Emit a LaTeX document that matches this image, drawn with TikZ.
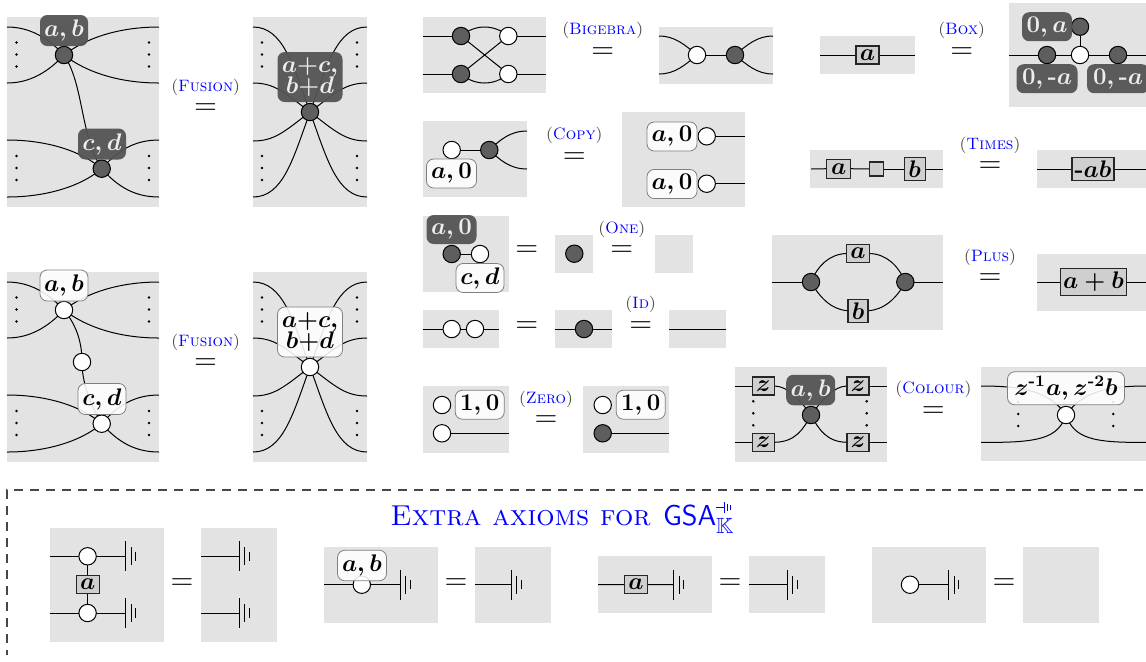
\documentclass[tikz,border=0pt]{standalone}
\usepackage{fix-cm}
\usepackage{amssymb}
\pgfdeclarelayer{panellayer}
\pgfdeclarelayer{wirelayer}
\pgfsetlayers{panellayer,wirelayer,main}
\definecolor{panelgrey}{gray}{0.89}
\definecolor{spiderdark}{gray}{0.37}
\definecolor{labeldark}{gray}{0.33}
\definecolor{boxgrey}{gray}{0.81}
\newcommand\labfont{\fontsize{12}{11}\selectfont\boldmath}
\newcommand\hy{\mbox{\bfseries -}}
\newcommand\hys{\mbox{\fontsize{8}{8}\selectfont\bfseries -}}
\newcommand\gndglyph{\hbox{\rule[2.7pt]{4pt}{.35pt}\rule{.4pt}{5.8pt}\kern1.2pt\rule[1pt]{.35pt}{3.8pt}\kern1pt\rule[1.7pt]{.35pt}{2.4pt}}}
\tikzset{
  panel/.style={fill=panelgrey,draw=none},
  wire/.style={draw=black,line width=.5pt},
  spider/.style={circle,draw=black,line width=.5pt,minimum size=8.7pt,inner sep=0pt,outer sep=0pt},
  gs/.style={spider,fill=spiderdark},
  ws/.style={spider,fill=white},
  sz/.style 2 args={minimum width=#1*0.5pt,minimum height=#2*0.5pt},
  baselab/.style={rounded corners=3.6pt,inner sep=0pt,outer sep=0pt,align=center,font=\labfont},
  dlab/.style={baselab,fill=labeldark,fill opacity=.95,text opacity=1,text=white!93!black,draw=none},
  wlab/.style={baselab,fill=white,fill opacity=.88,draw=black!50,draw opacity=1,line width=.4pt,text opacity=1,text=black},
  bx/.style={rectangle,draw=black!85,fill=boxgrey,line width=.6pt,inner sep=0pt,outer sep=0pt,font=\labfont},
  eqn/.style={inner sep=0pt,outer sep=0pt,font=\fontsize{15}{15}\selectfont},
  rulename/.style={inner sep=0pt,outer sep=0pt,font=\fontsize{8.25}{9}\selectfont,text=black!70},
  gnd/.pic={
    \draw[wire] (0,-15) -- (0,15);
    \draw[wire] (5.5,-9) -- (5.5,9);
    \draw[wire] (10,-4.7) -- (10,4.7);
  },
}
\newcommand\panelbox[4]{\begin{pgfonlayer}{panellayer}\fill[panel] (#1,#2) rectangle (#3,#4);\end{pgfonlayer}}
\newcommand\nm[1]{(\textcolor{blue}{\textsc{#1}})}
\newcommand\dotsv[2]{\foreach \yy in {-12,0,12} \fill[black] (#1,#2+\yy) circle (1.4);}
% left hand of (Fusion): #1 spider style, #2 label style, #3 link
\newcommand\fusionL[3]{%
  \panelbox{7}{17}{159}{207}
  \node[#1] (A) at (64,55) {};
  \node[#1] (B) at (101.7,168.7) {};
  #3
  \node[#2,sz={48}{31}] (LA) at (64,30.5) {$a,b$};
  \node[#2,sz={48}{31}] (LB) at (102,144) {$c,d$};
  \coordinate (a1) at (7,27); \coordinate (a2) at (7,83);
  \coordinate (a3) at (159,27); \coordinate (a4) at (159,83);
  \coordinate (b1) at (7,140); \coordinate (b2) at (7,197);
  \coordinate (b3) at (159,140); \coordinate (b4) at (159,197);
  \dotsv{16.5}{54.5}\dotsv{149}{54.5}\dotsv{16.5}{168}\dotsv{149}{168}
  \begin{pgfonlayer}{wirelayer}
    \draw[wire] (a1) .. controls (30,27) and (48,38) .. (A.center);
    \draw[wire] (a2) .. controls (30,83) and (48,72) .. (A.center);
    \draw[wire] (a3) .. controls (125,27) and (90,35) .. (A.center);
    \draw[wire] (a4) .. controls (125,83) and (90,75) .. (A.center);
    \draw[wire] (b1) .. controls (45,140) and (80,150) .. (B.center);
    \draw[wire] (b2) .. controls (45,197) and (80,187) .. (B.center);
    \draw[wire] (b3) .. controls (135,140) and (118,150) .. (B.center);
    \draw[wire] (b4) .. controls (135,197) and (118,187) .. (B.center);
  \end{pgfonlayer}
}
% right hand of (Fusion)
\newcommand\fusionR[2]{%
  \panelbox{253}{17}{367}{207}
  \node[#1] (S) at (310,112) {};
  \node[#2,sz={65}{50}] (LS) at (310,77) {$a{+}c,$\\[-.5pt]$b{+}d$};
  \coordinate (c1) at (253,27); \coordinate (c2) at (253,83);
  \coordinate (c3) at (253,141); \coordinate (c4) at (253,197);
  \coordinate (c5) at (367,27); \coordinate (c6) at (367,83);
  \coordinate (c7) at (367,141); \coordinate (c8) at (367,197);
  \dotsv{262}{54.5}\dotsv{357}{54.5}\dotsv{262}{168}\dotsv{357}{168}
  \begin{pgfonlayer}{wirelayer}
    \draw[wire] (c1) .. controls (283,27) and (293,65) .. (S.center);
    \draw[wire] (c2) .. controls (275,83) and (285,93) .. (S.center);
    \draw[wire] (c3) .. controls (275,141) and (285,131) .. (S.center);
    \draw[wire] (c4) .. controls (283,197) and (293,159) .. (S.center);
    \draw[wire] (c5) .. controls (337,27) and (327,65) .. (S.center);
    \draw[wire] (c6) .. controls (345,83) and (335,93) .. (S.center);
    \draw[wire] (c7) .. controls (345,141) and (335,131) .. (S.center);
    \draw[wire] (c8) .. controls (337,197) and (327,159) .. (S.center);
  \end{pgfonlayer}
}
\begin{document}
\begin{tikzpicture}[x=0.5pt,y=-0.5pt]
\useasboundingbox (0,0) rectangle (1146,661);
\clip (0,0) rectangle (1146,661);

% ---- Fusion, dark
\begin{scope}[name prefix=P-]
  \fusionL{gs}{dlab}{\begin{pgfonlayer}{wirelayer}\draw[wire] (A.center) .. controls (84,85) and (80,135) .. (B.center);\end{pgfonlayer}}
  \fusionR{gs}{dlab}
\end{scope}
\node[rulename] (t1) at (205.6,87) {\nm{Fusion}};
\node[eqn] (e1) at (205.6,109) {$=$};

% ---- Fusion, white
\begin{scope}[shift={(0,255)},name prefix=Q-]
  \fusionL{ws}{wlab}{\node[ws] (C) at (82,107) {};\begin{pgfonlayer}{wirelayer}\draw[wire] (A.center) .. controls (78,72) and (82,90) .. (C.center);\draw[wire] (C.center) .. controls (82,125) and (88,145) .. (B.center);\end{pgfonlayer}}
  \fusionR{ws}{wlab}
\end{scope}
\node[rulename] (t2) at (205.6,342) {\nm{Fusion}};
\node[eqn] (e2) at (205.6,364.5) {$=$};

% ---- Bigebra
\panelbox{423}{17}{546}{93}
\node[gs] (bg1) at (461,36) {};
\node[gs] (bg2) at (461,74) {};
\node[ws] (bw1) at (508.3,36) {};
\node[ws] (bw2) at (508.3,74) {};
\coordinate (bl1) at (423,36); \coordinate (bl2) at (423,74);
\coordinate (br1) at (546,36); \coordinate (br2) at (546,74);
\begin{pgfonlayer}{wirelayer}
  \draw[wire] (bl1) -- (bg1.center); \draw[wire] (bl2) -- (bg2.center);
  \draw[wire] (bw1.center) -- (br1); \draw[wire] (bw2.center) -- (br2);
  \draw[wire] (bg1.center) .. controls (475,24) and (494,24) .. (bw1.center);
  \draw[wire] (bg2.center) .. controls (475,86) and (494,86) .. (bw2.center);
  \draw[wire] (bg1.center) -- (bw2.center);
  \draw[wire] (bg2.center) -- (bw1.center);
\end{pgfonlayer}
\node[rulename] (t3) at (602.7,30.7) {\nm{Bigebra}};
\node[eqn] (e3) at (602.7,53) {$=$};
\panelbox{659}{27}{773}{84}
\node[ws] (bw3) at (697,55) {};
\node[gs] (bg3) at (735,55) {};
\coordinate (bl3) at (659,36); \coordinate (bl4) at (659,74);
\coordinate (br3) at (773,36); \coordinate (br4) at (773,74);
\begin{pgfonlayer}{wirelayer}
  \draw[wire] (bl3) .. controls (675,36) and (685,45) .. (bw3.center);
  \draw[wire] (bl4) .. controls (675,74) and (685,65) .. (bw3.center);
  \draw[wire] (bw3.center) -- (bg3.center);
  \draw[wire] (bg3.center) .. controls (747,45) and (757,36) .. (br3);
  \draw[wire] (bg3.center) .. controls (747,65) and (757,74) .. (br4);
\end{pgfonlayer}

% ---- Box
\panelbox{820}{36}{915}{74}
\node[bx,sz={23}{18}] (xa) at (867.5,55) {$a$};
\coordinate (xl) at (820,55); \coordinate (xr) at (915,55);
\begin{pgfonlayer}{wirelayer}
  \draw[wire] (xl) -- (xa.west); \draw[wire] (xa.east) -- (xr);
\end{pgfonlayer}
\node[rulename] (t4) at (961.7,30.7) {\nm{Box}};
\node[eqn] (e4) at (961.7,53) {$=$};
\panelbox{1009}{3}{1146}{107}
\node[gs] (xg1) at (1080,26.7) {};
\node[ws] (xw) at (1080,55) {};
\node[gs] (xg2) at (1047,55) {};
\node[gs] (xg3) at (1118,55) {};
\node[dlab,sz={50}{29}] (xl1) at (1047,26.7) {$\mathbf{0},a$};
\node[dlab,sz={61}{29}] (xl2) at (1047,78.7) {$\mathbf{0},\hy a$};
\node[dlab,sz={62}{29}] (xl3) at (1118,78.7) {$\mathbf{0},\hy a$};
\coordinate (xl4) at (1009,55); \coordinate (xr4) at (1146,55);
\begin{pgfonlayer}{wirelayer}
  \draw[wire] (xl4) -- (xr4);
  \draw[wire] (xg1.center) -- (xw.center);
\end{pgfonlayer}

% ---- Copy
\panelbox{423}{121}{527}{197}
\node[ws] (cw1) at (451.7,150) {};
\node[gs] (cg1) at (489.3,150) {};
\node[wlab,sz={50}{29}] (cl1) at (451.5,173.5) {$a,\mathbf{0}$};
\coordinate (cr1) at (527,131); \coordinate (cr2) at (527,169);
\begin{pgfonlayer}{wirelayer}
  \draw[wire] (cw1.center) -- (cg1.center);
  \draw[wire] (cg1.center) .. controls (500,140) and (510,131) .. (cr1);
  \draw[wire] (cg1.center) .. controls (500,160) and (510,169) .. (cr2);
\end{pgfonlayer}
\node[rulename] (t5) at (574.3,135) {\nm{Copy}};
\node[eqn] (e5) at (574.3,157.7) {$=$};
\panelbox{622}{112}{745}{207}
\node[ws] (cw2) at (706.7,136.3) {};
\node[ws] (cw3) at (706.7,183.7) {};
\node[wlab,sz={50}{29}] (cl2) at (672,136.5) {$a,\mathbf{0}$};
\node[wlab,sz={50}{29}] (cl3) at (672,184) {$a,\mathbf{0}$};
\coordinate (cr3) at (745,136.3); \coordinate (cr4) at (745,183.7);
\begin{pgfonlayer}{wirelayer}
  \draw[wire] (cw2.center) -- (cr3); \draw[wire] (cw3.center) -- (cr4);
\end{pgfonlayer}

% ---- Times
\panelbox{810}{150}{943}{188}
\node[bx,sz={24}{19}] (ta) at (838.7,168.7) {$a$};
\node[bx,sz={14}{14}] (tm) at (876.7,169) {};
\node[bx,sz={21}{23}] (tb) at (914.7,169) {$b$};
\coordinate (tl) at (811,169); \coordinate (tr) at (943,169);
\begin{pgfonlayer}{wirelayer}
  \draw[wire] (tl) -- (ta.west); \draw[wire] (ta.east) -- (tm.west);
  \draw[wire] (tm.east) -- (tb.west); \draw[wire] (tb.east) -- (tr);
\end{pgfonlayer}
\node[rulename] (t6) at (990,145) {\nm{Times}};
\node[eqn] (e6) at (990,167) {$=$};
\panelbox{1037}{150}{1146}{188}
\node[bx,sz={42}{23}] (tab) at (1093,169) {$\hy ab$};
\coordinate (tl2) at (1037,169); \coordinate (tr2) at (1146,169);
\begin{pgfonlayer}{wirelayer}
  \draw[wire] (tl2) -- (tab.west); \draw[wire] (tab.east) -- (tr2);
\end{pgfonlayer}

% ---- One
\panelbox{423}{216}{509}{292}
\node[gs] (og1) at (451.7,254) {};
\node[ws] (ow1) at (480,254) {};
\node[dlab,sz={50}{29}] (ol1) at (451.5,229.5) {$a,\mathbf{0}$};
\node[wlab,sz={48}{29}] (ol2) at (480,278) {$c,d$};
\begin{pgfonlayer}{wirelayer}
  \draw[wire] (og1.center) -- (ow1.center);
\end{pgfonlayer}
\node[eqn] (e7) at (526.7,251.3) {$=$};
\panelbox{555}{235}{593}{273}
\node[gs] (og2) at (574.3,253.7) {};
\node[rulename] (t7) at (621.7,229.3) {\nm{One}};
\node[eqn] (e8) at (621.7,251.3) {$=$};
\panelbox{655}{235}{693}{273}

% ---- Id
\panelbox{423}{310}{499.3}{348}
\node[ws] (iw1) at (451.7,329) {};
\node[ws] (iw2) at (475,329) {};
\coordinate (il1) at (423,329); \coordinate (ir1) at (499.3,329);
\begin{pgfonlayer}{wirelayer}
  \draw[wire] (il1) -- (iw1.center); \draw[wire] (iw1.center) -- (iw2.center); \draw[wire] (iw2.center) -- (ir1);
\end{pgfonlayer}
\node[eqn] (e9) at (526.7,327.3) {$=$};
\panelbox{555}{310}{612}{348}
\node[gs] (ig) at (584,329) {};
\coordinate (il2) at (555,329); \coordinate (ir2) at (612,329);
\begin{pgfonlayer}{wirelayer}
  \draw[wire] (il2) -- (ig.center); \draw[wire] (ig.center) -- (ir2);
\end{pgfonlayer}
\node[rulename] (t8) at (640.7,304.7) {\nm{Id}};
\node[eqn] (e10) at (640.7,327.3) {$=$};
\panelbox{669}{310}{726}{348}
\coordinate (il3) at (669,329); \coordinate (ir3) at (726,329);
\draw[wire] (il3) -- (ir3);

% ---- Zero
\panelbox{423}{386}{509}{453}
\node[ws] (zw1) at (442,405) {};
\node[ws] (zw2) at (442,433.3) {};
\node[wlab,sz={49}{29}] (zl1) at (479.7,404.7) {$\mathbf{1},\mathbf{0}$};
\coordinate (zr1) at (509,433.3);
\begin{pgfonlayer}{wirelayer}
  \draw[wire] (zw2.center) -- (zr1);
\end{pgfonlayer}
\node[rulename] (t9) at (546,399.3) {\nm{Zero}};
\node[eqn] (e11) at (546,421.3) {$=$};
\panelbox{583}{386}{669}{453}
\node[ws] (zw3) at (602.7,405) {};
\node[gs] (zg) at (602.7,433.3) {};
\node[wlab,sz={49}{29}] (zl2) at (640.7,404.7) {$\mathbf{1},\mathbf{0}$};
\coordinate (zr2) at (669,433.3);
\begin{pgfonlayer}{wirelayer}
  \draw[wire] (zg.center) -- (zr2);
\end{pgfonlayer}

% ---- Plus
\panelbox{772}{235}{943}{330}
\node[gs] (pg1) at (811,282) {};
\node[gs] (pg2) at (905.3,282) {};
\node[bx,sz={23}{18}] (pa) at (858,253.5) {$a$};
\node[bx,sz={20}{23}] (pb) at (858,310.7) {$b$};
\coordinate (pl) at (772,282); \coordinate (pr) at (943,282);
\begin{pgfonlayer}{wirelayer}
  \draw[wire] (pl) -- (pg1.center); \draw[wire] (pg2.center) -- (pr);
  \draw[wire] (pg1.center) .. controls (818,265) and (830,254) .. (pa.west);
  \draw[wire] (pa.east) .. controls (886,254) and (898,265) .. (pg2.center);
  \draw[wire] (pg1.center) .. controls (820,298) and (832,310) .. (pb.west);
  \draw[wire] (pb.east) .. controls (884,310) and (897,298) .. (pg2.center);
\end{pgfonlayer}
\node[rulename] (t10) at (990,257.3) {\nm{Plus}};
\node[eqn] (e12) at (990,279.3) {$=$};
\panelbox{1037}{254}{1146}{310.7}
\node[bx,sz={66}{27}] (pab) at (1093.5,282) {$a+b$};
\coordinate (pl2) at (1037,282); \coordinate (pr2) at (1146,282);
\begin{pgfonlayer}{wirelayer}
  \draw[wire] (pl2) -- (pab.west); \draw[wire] (pab.east) -- (pr2);
\end{pgfonlayer}

% ---- Colour
\panelbox{735}{367}{887}{462}
\node[gs] (kg) at (811,415) {};
\node[bx,sz={22}{18}] (kz1) at (763.3,386) {$z$};
\node[bx,sz={22}{18}] (kz2) at (858,386) {$z$};
\node[bx,sz={22}{18}] (kz3) at (763.3,442.3) {$z$};
\node[bx,sz={22}{18}] (kz4) at (858,442.3) {$z$};
\node[dlab,sz={49}{30.5}] (kl) at (810.7,390) {$a,b$};
\dotsv{753.3}{413.3}\dotsv{866.7}{413.3}
\coordinate (kl1) at (735,386); \coordinate (kl2) at (735,442.3);
\coordinate (kr1) at (887,386); \coordinate (kr2) at (887,442.3);
\begin{pgfonlayer}{wirelayer}
  \draw[wire] (kl1) -- (kz1.west); \draw[wire] (kl2) -- (kz3.west);
  \draw[wire] (kz2.east) -- (kr1); \draw[wire] (kz4.east) -- (kr2);
  \draw[wire] (kz1.east) .. controls (788,386) and (800,400) .. (kg.center);
  \draw[wire] (kz2.west) .. controls (834,386) and (822,400) .. (kg.center);
  \draw[wire] (kz3.east) .. controls (795,442) and (803,430) .. (kg.center);
  \draw[wire] (kz4.west) .. controls (827,442) and (819,430) .. (kg.center);
\end{pgfonlayer}
\node[rulename] (t11) at (933.3,389) {\nm{Colour}};
\node[eqn] (e13) at (933.3,412.3) {$=$};
\panelbox{981}{367}{1146}{461}
\node[ws] (kw) at (1066,415) {};
\dotsv{1018.3}{414}\dotsv{1113.3}{414}
\node[wlab,sz={117}{33}] (kl3) at (1066,388.3) {$z^{\hys\mathbf{1}}a,z^{\hys\mathbf{2}}b$};
\coordinate (kl4) at (981,386); \coordinate (kl5) at (981,442.3);
\coordinate (kr4) at (1146,386); \coordinate (kr5) at (1146,442.3);
\begin{pgfonlayer}{wirelayer}
  \draw[wire] (kl4) .. controls (1025,386) and (1050,392) .. (kw.center);
  \draw[wire] (kr4) .. controls (1107,386) and (1082,392) .. (kw.center);
  \draw[wire] (kl5) .. controls (1040,443) and (1058,438) .. (kw.center);
  \draw[wire] (kr5) .. controls (1092,443) and (1074,438) .. (kw.center);
\end{pgfonlayer}

% ---- Extra axioms frame
\coordinate (fr1) at (1146,490); \coordinate (fr2) at (7,490); \coordinate (fr3) at (7,655);
\draw[black!72,line width=.6pt,dash pattern=on 4.5pt off 3.5pt,dash phase=2pt] (fr3) -- (fr2) -- (fr1);
\node[anchor=base west,inner sep=0pt,text=blue,font=\fontsize{14.4}{15}\selectfont] (title) at (390,525.7)
  {\textsc{Extra axioms for}\kern1.5pt\ $\mathsf{GSA}^{\gndglyph}_{\mbox{\fontsize{11}{11}\selectfont$\mathbb{K}$}}$};

% row 1
\panelbox{50}{528}{164}{642}
\node[ws] (g1) at (87.6,556.3) {};
\node[ws] (g2) at (87.6,613) {};
\node[bx,sz={23}{18.5}] (ga) at (87.6,584.5) {$a$};
\coordinate (gl1) at (50,556.3); \coordinate (gl2) at (50,613);
\coordinate (gn1) at (125.5,556.3); \coordinate (gn2) at (125.5,613);
\pic at (gn1) {gnd}; \pic at (gn2) {gnd};
\begin{pgfonlayer}{wirelayer}
  \draw[wire] (gl1) -- (g1.center); \draw[wire] (g1.center) -- (gn1);
  \draw[wire] (gl2) -- (g2.center); \draw[wire] (g2.center) -- (gn2);
  \draw[wire] (g1.center) -- (ga.north); \draw[wire] (ga.south) -- (g2.center);
\end{pgfonlayer}
\node[eqn] (e14) at (182,583.7) {$=$};
\panelbox{201}{528}{277}{642}
\coordinate (hl1) at (201,556.3); \coordinate (hl2) at (201,613);
\coordinate (hn1) at (239,556.3); \coordinate (hn2) at (239,613);
\pic at (hn1) {gnd}; \pic at (hn2) {gnd};
\draw[wire] (hl1) -- (hn1); \draw[wire] (hl2) -- (hn2);

\panelbox{324}{547}{438}{623}
\node[ws] (j1) at (361.8,584.7) {};
\node[wlab,sz={49}{30.5}] (jl) at (362,565.5) {$a,b$};
\coordinate (jl1) at (324,584.7); \coordinate (jn1) at (400.4,584.7);
\pic at (jn1) {gnd};
\begin{pgfonlayer}{wirelayer}
  \draw[wire] (jl1) -- (j1.center); \draw[wire] (j1.center) -- (jn1);
\end{pgfonlayer}
\node[eqn] (e15) at (456,583.7) {$=$};
\panelbox{475}{547}{551}{623}
\coordinate (jl2) at (475,584.7); \coordinate (jn2) at (511,584.7);
\pic at (jn2) {gnd};
\draw[wire] (jl2) -- (jn2);

\panelbox{598}{556}{712}{613}
\node[bx,sz={23}{18.5}] (ma) at (636,584.5) {$a$};
\coordinate (ml1) at (598,584.7); \coordinate (mn1) at (673.6,584.7);
\pic at (mn1) {gnd};
\begin{pgfonlayer}{wirelayer}
  \draw[wire] (ml1) -- (ma.west); \draw[wire] (ma.east) -- (mn1);
\end{pgfonlayer}
\node[eqn] (e16) at (730,583.7) {$=$};
\panelbox{749}{556}{825}{613}
\coordinate (ml2) at (749,584.7); \coordinate (mn2) at (787,584.7);
\pic at (mn2) {gnd};
\draw[wire] (ml2) -- (mn2);

\panelbox{872}{547}{985.5}{623}
\node[ws] (n1) at (910,584.7) {};
\coordinate (nn1) at (948.8,584.7);
\pic at (nn1) {gnd};
\begin{pgfonlayer}{wirelayer}
  \draw[wire] (n1.center) -- (nn1);
\end{pgfonlayer}
\node[eqn] (e17) at (1004,583.7) {$=$};
\panelbox{1023}{547}{1099}{623}
\end{tikzpicture}
\end{document}
